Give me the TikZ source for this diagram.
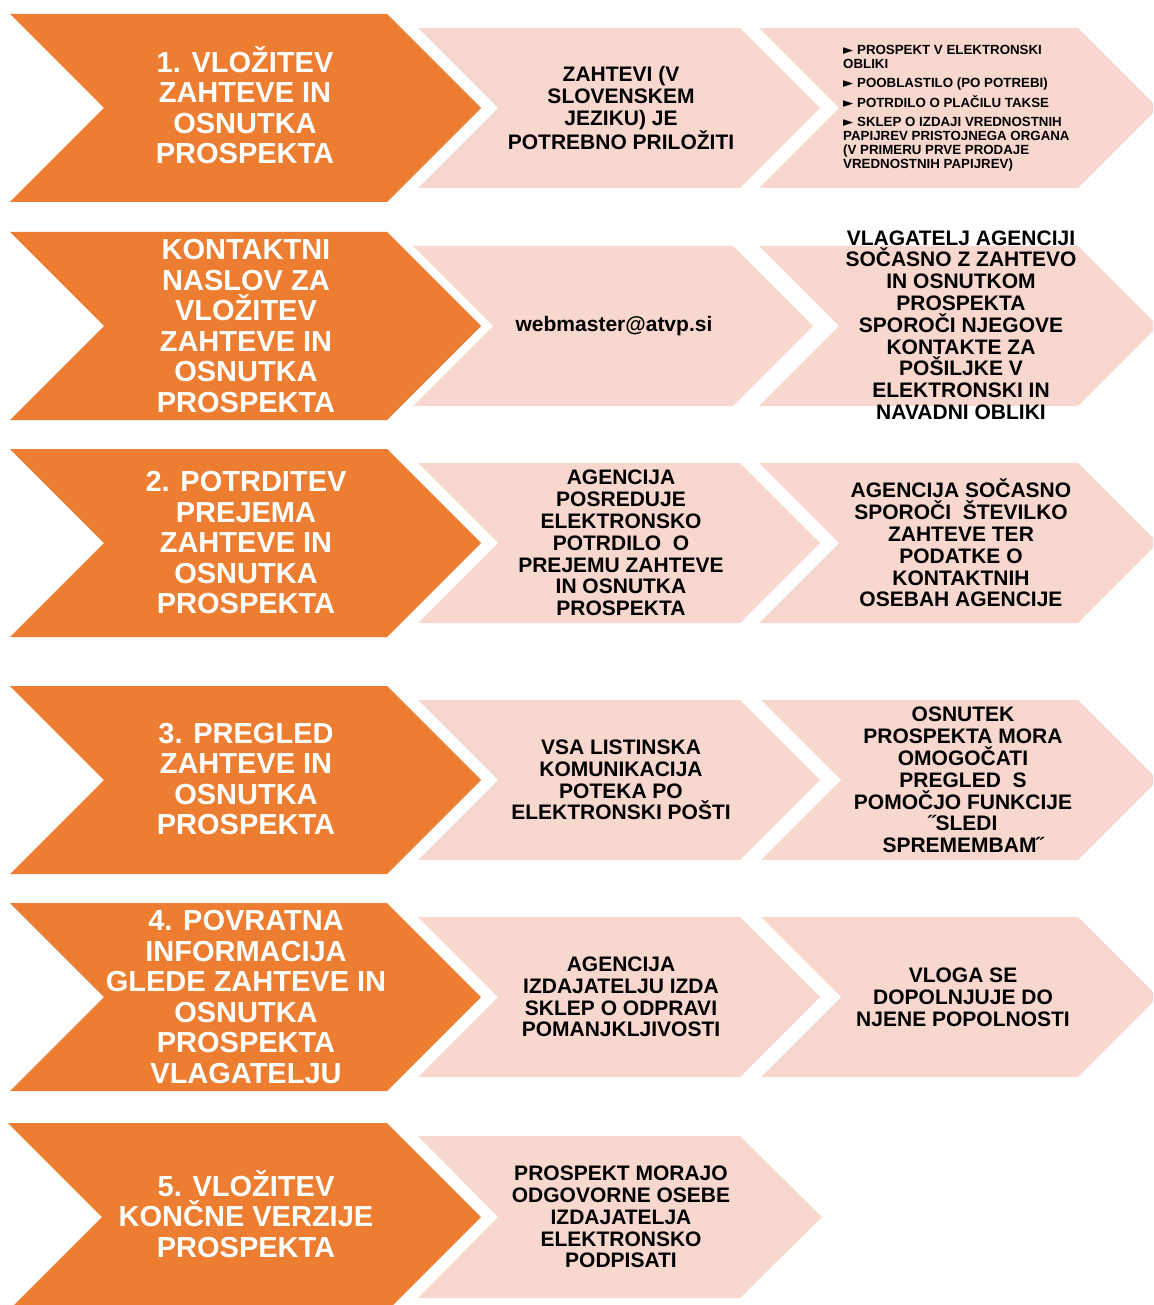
\documentclass[tikz,border=0pt]{standalone}
\usepackage{fontspec}
\setmainfont{Liberation Sans}
\newfontfamily\pointerfont{DejaVu Sans}
\usepackage{tikz}

\definecolor{stageorange}{HTML}{ED7D31}
\definecolor{stagepink}{HTML}{F8D8CE}

\newcommand{\pointer}{{\pointerfont ►}}

\begin{document}
\begin{tikzpicture}[x=1pt, y=-1pt,
    bigchev/.style={fill=stageorange},
    smallchev/.style={fill=stagepink},
    bigtext/.style={text=white, align=center, inner sep=0pt,
      font=\bfseries\fontsize{29}{30.5}\selectfont},
    smalltext/.style={text=black, align=center, inner sep=0pt,
      font=\bfseries\fontsize{21}{21.8}\selectfont},
    listtext/.style={text=black, align=left, inner sep=0pt, anchor=west,
      font=\bfseries\fontsize{13.3}{14}\selectfont}]

    \clip (0,0) rectangle (1153,1305);

    \begin{scope}[shift={(0,108)}]

      \fill[bigchev] (10,-94) -- (387,-94) -- (481,0) -- (387,94) -- (10,94) -- (104,0) -- cycle;
      \fill[smallchev] (418,-80) -- (740,-80) -- (820,0) -- (740,80) -- (418,80) -- (498,0) -- cycle;
      \fill[smallchev] (759,-80) -- (1078,-80) -- (1158,0) -- (1078,80) -- (759,80) -- (839,0) -- cycle;

      \node[bigtext] (vlozitev) at (245,-3) {1. VLOŽITEV\\ZAHTEVE IN\\OSNUTKA\\PROSPEKTA};
      \node[smalltext] (zahtevi) at (621,0) {ZAHTEVI (V\\SLOVENSKEM\\JEZIKU) JE\\POTREBNO PRILOŽITI};
      \node[listtext] (priloge) at (843,0) {\pointer\ PROSPEKT V ELEKTRONSKI\\OBLIKI\\[5pt]
        \pointer\ POOBLASTILO (PO POTREBI)\\[4pt]\pointer\ POTRDILO O PLAČILU TAKSE\\[5pt]
        \pointer\ SKLEP O IZDAJI VREDNOSTNIH\\PAPIJREV PRISTOJNEGA ORGANA\\(V PRIMERU PRVE PRODAJE\\VREDNOSTNIH PAPIJREV)};

    \end{scope}



    \begin{scope}[shift={(0,326)}]

      \fill[bigchev] (10,-94) -- (387,-94) -- (481,0) -- (387,94) -- (10,94) -- (104,0) -- cycle;
      \fill[smallchev] (413,-80) -- (733,-80) -- (813,0) -- (733,80) -- (413,80) -- (493,0) -- cycle;
      \fill[smallchev] (759,-80) -- (1078,-80) -- (1158,0) -- (1078,80) -- (759,80) -- (839,0) -- cycle;

      \node[bigtext] (kontakt) at (246,0) {KONTAKTNI\\NASLOV ZA\\VLOŽITEV\\ZAHTEVE IN\\OSNUTKA\\PROSPEKTA};
      \node[smalltext] (naslov) at (614,0) {webmaster@atvp.si};
      \node[smalltext] (vlagatelj) at (961,-1) {VLAGATELJ AGENCIJI\\SOČASNO Z ZAHTEVO\\IN OSNUTKOM\\PROSPEKTA\\SPOROČI NJEGOVE\\KONTAKTE ZA\\POŠILJKE V\\ELEKTRONSKI IN\\NAVADNI OBLIKI};

    \end{scope}



    \begin{scope}[shift={(0,543)}]

      \fill[bigchev] (10,-94) -- (387,-94) -- (481,0) -- (387,94) -- (10,94) -- (104,0) -- cycle;
      \fill[smallchev] (418,-80) -- (740,-80) -- (820,0) -- (740,80) -- (418,80) -- (498,0) -- cycle;
      \fill[smallchev] (759,-80) -- (1078,-80) -- (1158,0) -- (1078,80) -- (759,80) -- (839,0) -- cycle;

      \node[bigtext] (potrditev) at (246,0) {2. POTRDITEV\\PREJEMA\\ZAHTEVE IN\\OSNUTKA\\PROSPEKTA};
      \node[smalltext] (posreduje) at (621,0) {AGENCIJA\\POSREDUJE\\ELEKTRONSKO\\POTRDILO~ O\\PREJEMU ZAHTEVE\\IN OSNUTKA\\PROSPEKTA};
      \node[smalltext] (sporoci) at (961,0) {AGENCIJA SOČASNO\\SPOROČI~ ŠTEVILKO\\ZAHTEVE TER\\PODATKE O\\KONTAKTNIH\\OSEBAH AGENCIJE};

    \end{scope}



    \begin{scope}[shift={(0,780)}]

      \fill[bigchev] (10,-94) -- (387,-94) -- (481,0) -- (387,94) -- (10,94) -- (104,0) -- cycle;
      \fill[smallchev] (418,-80) -- (740,-80) -- (820,0) -- (740,80) -- (418,80) -- (498,0) -- cycle;
      \fill[smallchev] (761,-80) -- (1078,-80) -- (1158,0) -- (1078,80) -- (761,80) -- (841,0) -- cycle;

      \node[bigtext] (pregled) at (246,-1) {3. PREGLED\\ZAHTEVE IN\\OSNUTKA\\PROSPEKTA};
      \node[smalltext] (posta) at (621,0) {VSA LISTINSKA\\KOMUNIKACIJA\\POTEKA PO\\ELEKTRONSKI POŠTI};
      \node[smalltext] (osnutek) at (963,0) {OSNUTEK\\PROSPEKTA MORA\\OMOGOČATI\\PREGLED~ S\\POMOČJO FUNKCIJE\\˝SLEDI\\SPREMEMBAM˝};

    \end{scope}



    \begin{scope}[shift={(0,997)}]

      \fill[bigchev] (10,-94) -- (387,-94) -- (481,0) -- (387,94) -- (10,94) -- (104,0) -- cycle;
      \fill[smallchev] (418,-80) -- (740,-80) -- (820,0) -- (740,80) -- (418,80) -- (498,0) -- cycle;
      \fill[smallchev] (761,-80) -- (1078,-80) -- (1158,0) -- (1078,80) -- (761,80) -- (841,0) -- cycle;

      \node[bigtext] (povratna) at (246,0) {4. POVRATNA\\INFORMACIJA\\GLEDE ZAHTEVE IN\\OSNUTKA\\PROSPEKTA\\VLAGATELJU};
      \node[smalltext] (sklep) at (621,0) {AGENCIJA\\IZDAJATELJU IZDA\\SKLEP O ODPRAVI\\POMANJKLJIVOSTI};
      \node[smalltext] (vloga) at (963,0) {VLOGA SE\\DOPOLNJUJE DO\\NJENE POPOLNOSTI};

    \end{scope}



    \begin{scope}[shift={(0,1217)}]

      \fill[bigchev] (8,-94) -- (387,-94) -- (481,0) -- (387,94) -- (8,94) -- (102,0) -- cycle;
      \fill[smallchev] (418,-81) -- (740,-81) -- (822,0) -- (740,81) -- (418,81) -- (498,0) -- cycle;

      \node[bigtext] (koncna) at (246,-3) {5. VLOŽITEV\\KONČNE VERZIJE\\PROSPEKTA};
      \node[smalltext] (podpis) at (621,0) {PROSPEKT MORAJO\\ODGOVORNE OSEBE\\IZDAJATELJA\\ELEKTRONSKO\\PODPISATI};

    \end{scope}

  \end{tikzpicture}
\end{document}
